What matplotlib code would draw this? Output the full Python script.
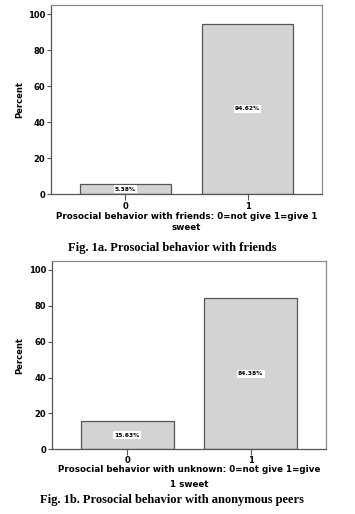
import matplotlib.pyplot as plt

# data
categories = ["0", "1"]
friends_pct = [5.38, 94.62]
unknown_pct = [15.63, 84.38]
yticks = [0, 20, 40, 60, 80, 100]

W, H = 355, 514
fig = plt.figure(figsize=(W / 100, H / 100), dpi=100)
fig.patch.set_facecolor("white")

sans = "DejaVu Sans"
serif = "Liberation Serif"


def px_axes(left, top, right, bottom):
    return fig.add_axes([left / W, 1 - bottom / H, (right - left) / W, (bottom - top) / H])


def panel(ax, values, xlabel, label_y, ylab_x, xtick_pad, spacing):
    x = range(len(categories))
    ax.bar(x, values, width=0.75, color="#d3d3d3", edgecolor="#555555", linewidth=0.9)
    for xi, v in zip(x, values):
        ax.text(xi, v / 2, f"{v:.2f}%", ha="center", va="center",
                fontsize=4.3, fontweight="bold", family=sans,
                bbox=dict(facecolor="white", edgecolor="none", pad=1.0))
    ax.set_xlim(-0.61, 1.61)
    ax.set_ylim(0, 105)
    ax.set_yticks(yticks)
    ax.set_xticks(list(x))
    ax.set_xticklabels(categories)
    for lab in ax.get_xticklabels() + ax.get_yticklabels():
        lab.set_fontfamily(sans)
        lab.set_fontweight("bold")
        lab.set_fontsize(6)
    ax.tick_params(axis="y", length=3, width=0.8, pad=1, color="#555555")
    ax.tick_params(axis="x", length=4, width=0.8, pad=xtick_pad, color="#555555")
    for s in ax.spines.values():
        s.set_color("#8a8a8a")
        s.set_linewidth(0.9)
    ax.spines["left"].set_color("#555555")
    ax.spines["bottom"].set_color("#555555")
    ax.set_ylabel("Percent", fontsize=6, fontweight="bold", family=sans)
    ax.yaxis.set_label_coords(ylab_x, 0.5)
    ax.set_xlabel(xlabel, fontsize=6.3, fontweight="bold", family=sans,
                  linespacing=spacing)
    ax.xaxis.set_label_coords(0.5, label_y)


ax1 = px_axes(51, 5, 322, 194)
panel(ax1, friends_pct, "Prosocial behavior with friends: 0=not give 1=give 1\nsweet",
      -(212 - 194) / 189, -27 / 271, 1.5, 1.35)
fig.text(172 / W, 1 - 248 / H, "Fig. 1a. Prosocial behavior with friends",
         ha="center", va="center", family=serif, fontweight="bold", fontsize=9)

ax2 = px_axes(52, 261, 326, 449.3)
panel(ax2, unknown_pct, "Prosocial behavior with unknown: 0=not give 1=give\n1 sweet",
      -(465.5 - 449.3) / 188.3, -28 / 274, 0.5, 1.75)
fig.text(172 / W, 1 - 500 / H, "Fig. 1b. Prosocial behavior with anonymous peers",
         ha="center", va="center", family=serif, fontweight="bold", fontsize=9)

fig.savefig("out.png", dpi=100, facecolor="white")
